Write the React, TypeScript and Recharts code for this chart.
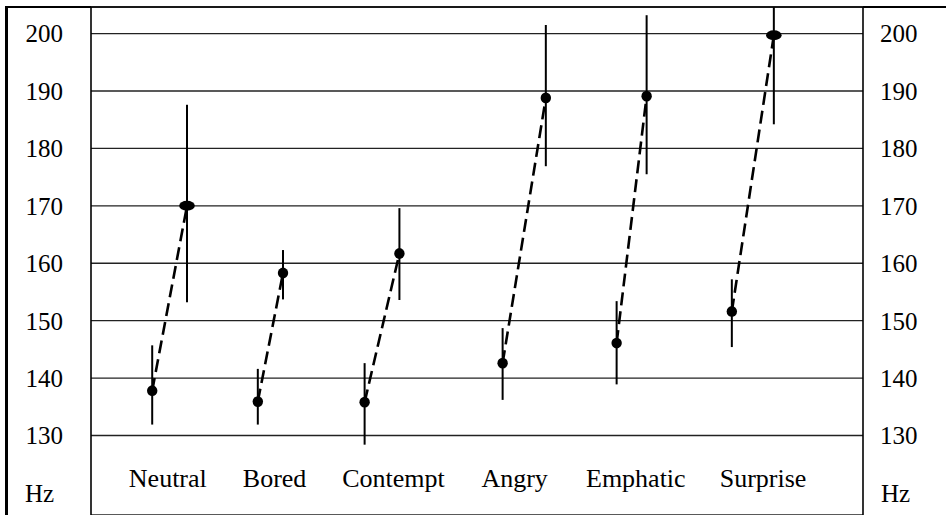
import { CartesianGrid, ErrorBar, Scatter, ScatterChart, XAxis, YAxis } from 'recharts';

// emotion categories and where their labels sit on the x scale
const categories = ['Neutral', 'Bored', 'Contempt', 'Angry', 'Emphatic', 'Surprise'];
const labelPos = [0.64, 1.53, 2.52, 3.53, 4.54, 5.6];

// first (low) measurement per category: x position, mean, range
const lowPos = [0.51, 1.39, 2.28, 3.43, 4.38, 5.34];
const lowMean = [137.8, 135.9, 135.8, 142.6, 146.1, 151.6];
const lowMin = [131.9, 131.9, 128.4, 136.2, 138.9, 145.4];
const lowMax = [145.7, 141.6, 142.6, 148.7, 153.4, 157.2];

// second (high) measurement per category
const highPos = [0.8, 1.6, 2.57, 3.79, 4.63, 5.69];
const highMean = [170.0, 158.3, 161.7, 188.8, 189.1, 199.7];
const highMin = [153.2, 153.7, 153.6, 176.9, 175.5, 184.2];
const highMax = [187.6, 162.3, 169.6, 201.5, 203.2, 204.6];

const hzTicks = [130, 140, 150, 160, 170, 180, 190, 200];

const wideMarkerCategories = ['Neutral', 'Surprise'];

const FONT = 'Liberation Serif';
const FONT_SIZE = 25;

const series = categories.map((name, i) => ({
  name,
  points: [
    { x: lowPos[i], y: lowMean[i], err: [lowMean[i] - lowMin[i], lowMax[i] - lowMean[i]], wide: false },
    {
      x: highPos[i],
      y: highMean[i],
      err: [highMean[i] - highMin[i], highMax[i] - highMean[i]],
      wide: wideMarkerCategories.includes(name),
    },
  ],
}));

const Marker = (props: any) => {
  const { cx, cy, payload } = props;
  if (cx == null || cy == null) return null;
  return payload.wide ? (
    <ellipse cx={cx} cy={cy} rx={7.8} ry={5} fill="#000" />
  ) : (
    <ellipse cx={cx} cy={cy} rx={5.2} ry={5.4} fill="#000" />
  );
};

const CategoryTick = (props: any) => {
  const { x, y, payload } = props;
  const idx = labelPos.indexOf(payload.value);
  return (
    <text x={x} y={y} dy={-28} textAnchor="middle" fontSize={26} fill="#000">
      {categories[idx] ?? ''}
    </text>
  );
};

const HzLabel = ({ viewBox, dx }: any) => (
  <text x={viewBox.x + dx} y={viewBox.y + viewBox.height - 13} fontSize={FONT_SIZE} fill="#000">
    Hz
  </text>
);

const App = () => (
  <div style={{ position: 'relative', width: 946, height: 515, overflow: 'hidden', background: '#fff' }}>
    <style>{`body{margin:0;} svg text{font-family:'${FONT}', serif !important;}`}</style>
    <div
      style={{
        position: 'absolute',
        left: 5,
        top: 6,
        width: 941,
        height: 520,
        borderTop: '2px solid #000',
        borderLeft: '3px solid #000',
        boxSizing: 'border-box',
      }}
    />
    <div style={{ position: 'absolute', left: 0, top: 0 }}>
      <ScatterChart width={946} height={560} margin={{ top: 7, right: 0, bottom: 0, left: 8 }}>
        <CartesianGrid vertical={false} yAxisId="left" stroke="#222" strokeWidth={1.3} />
        <XAxis
          type="number"
          dataKey="x"
          domain={[0, 6.433]}
          ticks={labelPos}
          interval={0}
          height={45}
          tickSize={0}
          tickMargin={0}
          axisLine={false}
          tickLine={false}
          tick={<CategoryTick />}
          allowDataOverflow
        />
        <YAxis
          yAxisId="left"
          type="number"
          dataKey="y"
          width={83}
          domain={[116.15, 204.63]}
          ticks={hzTicks}
          interval={0}
          allowDataOverflow
          tickSize={0}
          tickMargin={28}
          tickLine={false}
          axisLine={{ stroke: '#000', strokeWidth: 1.6 }}
          tick={{ fontSize: FONT_SIZE, fill: '#000' }}
          label={<HzLabel dx={17} />}
        />
        <YAxis
          yAxisId="right"
          orientation="right"
          type="number"
          width={83}
          domain={[116.15, 204.63]}
          ticks={hzTicks}
          interval={0}
          allowDataOverflow
          tickSize={0}
          tickMargin={17}
          tickLine={false}
          axisLine={{ stroke: '#000', strokeWidth: 1.6 }}
          tick={{ fontSize: FONT_SIZE, fill: '#000' }}
          label={<HzLabel dx={18} />}
        />
        {series.map((s) => (
          <Scatter
            key={s.name}
            name={s.name}
            data={s.points}
            yAxisId="left"
            isAnimationActive={false}
            line={{ stroke: '#000', strokeWidth: 2.6, strokeDasharray: '13 6' }}
            shape={<Marker />}
          >
            <ErrorBar dataKey="err" direction="y" width={0} stroke="#000" strokeWidth={2} isAnimationActive={false} />
          </Scatter>
        ))}
      </ScatterChart>
    </div>
  </div>
);

export default App;
